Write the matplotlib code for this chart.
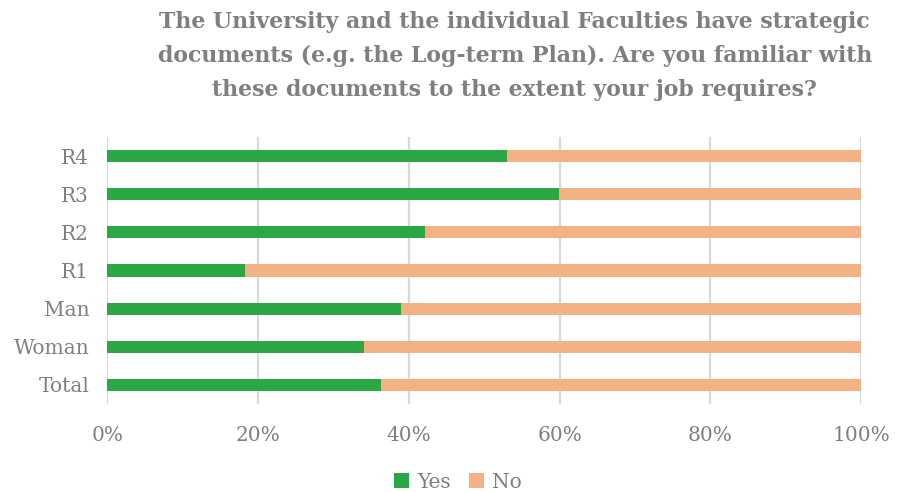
import matplotlib
matplotlib.use("Agg")
import matplotlib.pyplot as plt
from matplotlib.ticker import PercentFormatter

groups = ["Total", "Woman", "Man", "R1", "R2", "R3", "R4"]
yes = [36.3, 34.1, 38.9, 18.2, 42.2, 59.9, 53.0]
no = [100 - v for v in yes]

title = ("The University and the individual Faculties have strategic\n"
         "documents (e.g. the Log-term Plan). Are you familiar with\n"
         "these documents to the extent your job requires?")

green = "#2ca746"
orange = "#f4b183"
grey = "#7f7f7f"

plt.rcParams["font.family"] = ["DejaVu Serif"]

fig = plt.figure(figsize=(9.03, 4.92), dpi=100)
ax = fig.add_axes([0.1188, 0.179, 0.835, 0.5425])

pos = range(len(groups))
ax.barh(pos, yes, height=0.32, color=green, label="Yes", zorder=3)
ax.barh(pos, no, left=yes, height=0.32, color=orange, label="No", zorder=3)

ax.set_xlim(0, 100)
ax.set_ylim(-0.5, len(groups) - 0.5)
ax.set_xticks([0, 20, 40, 60, 80, 100])
ax.xaxis.set_major_formatter(PercentFormatter(decimals=0))
ax.set_yticks(list(pos))
ax.set_yticklabels(groups)
ax.tick_params(axis="both", length=0, labelsize=14.5, colors=grey)
ax.tick_params(axis="y", pad=13)
ax.tick_params(axis="x", pad=16)

ax.grid(axis="x", color="#d9d9d9", linewidth=1.6, zorder=0)
for s in ax.spines.values():
    s.set_visible(False)

fig.text(0.570, 0.978, title, ha="center", va="top", fontsize=15.8,
         fontweight="bold", color=grey, linespacing=1.72)

fig.legend(loc="center", bbox_to_anchor=(0.507, 0.02), ncol=2, frameon=False,
           fontsize=14.5, labelcolor=grey, handlelength=0.75, handleheight=0.75,
           handletextpad=0.4, columnspacing=0.9)

fig.savefig("out.png", dpi=100)
